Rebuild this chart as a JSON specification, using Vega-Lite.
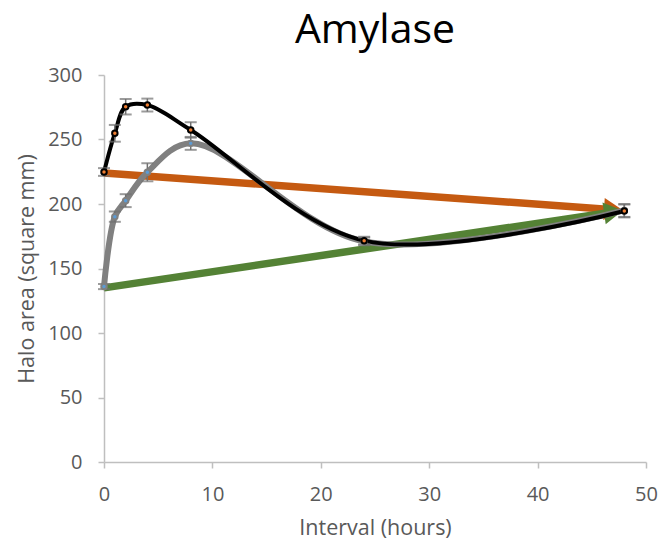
{
  "$schema": "https://vega.github.io/schema/vega-lite/v6.json",
  "width": 542,
  "height": 387,
  "autosize": "none",
  "padding": {"left": 104, "top": 75, "right": 12, "bottom": 83},
  "background": "white",
  "title": {"text": "Amylase", "fontSize": 41, "font": "Open Sans", "fontWeight": "normal", "color": "#000000", "offset": 13, "anchor": "middle"},
  "config": {
    "view": {"stroke": null},
    "axis": {"grid": false, "domainColor": "#BFBFBF", "tickColor": "#BFBFBF", "labelColor": "#595959", "titleColor": "#595959", "labelFont": "Open Sans", "titleFont": "Open Sans", "labelFontSize": 20, "titleFontSize": 21.5, "titleFontWeight": "normal", "tickSize": 6, "domainWidth": 1.5, "tickWidth": 1.5, "labelFlush": false}
  },
  "datasets": {
    "series": [
      {"series": "black", "x": 0, "y": 224.8, "err": 3},
      {"series": "black", "x": 1, "y": 254.8, "err": 6.5},
      {"series": "black", "x": 2, "y": 275.4, "err": 6},
      {"series": "black", "x": 4, "y": 276.7, "err": 5},
      {"series": "black", "x": 8, "y": 257.4, "err": 6},
      {"series": "black", "x": 24, "y": 171.6, "err": 3},
      {"series": "black", "x": 48, "y": 194.6, "err": 5},
      {"series": "gray", "x": 0, "y": 136, "err": 2},
      {"series": "gray", "x": 1, "y": 190.2, "err": 4},
      {"series": "gray", "x": 2, "y": 202.6, "err": 5},
      {"series": "gray", "x": 4, "y": 224.6, "err": 7},
      {"series": "gray", "x": 8, "y": 247, "err": 5},
      {"series": "gray", "x": 24, "y": 171, "err": 3},
      {"series": "gray", "x": 48, "y": 195, "err": 5}
    ],
    "arrows": [
      {"arrow": "orange", "x": 0, "y": 224, "end": false},
      {"arrow": "orange", "x": 47, "y": 195.6, "end": true},
      {"arrow": "green", "x": 0, "y": 135, "end": false},
      {"arrow": "green", "x": 47, "y": 193.8, "end": true}
    ]
  },
  "layer": [
    {
      "data": {"name": "arrows"},
      "transform": [{"filter": "datum.arrow == 'orange'"}],
      "mark": {"type": "line", "color": "#C55A11", "strokeWidth": 7.5},
      "encoding": {
        "x": {"field": "x", "type": "quantitative", "scale": {"domain": [0, 50]}, "axis": {"title": "Interval (hours)", "values": [0, 10, 20, 30, 40, 50], "labelPadding": 16, "titlePadding": 13}},
        "y": {"field": "y", "type": "quantitative", "scale": {"domain": [0, 300]}, "axis": {"title": "Halo area (square mm)", "values": [0, 50, 100, 150, 200, 250, 300], "labelPadding": 16, "titlePadding": 9}},
        "order": {"field": "x"}
      }
    },
    {
      "data": {"name": "arrows"},
      "transform": [{"filter": "datum.arrow == 'green'"}],
      "mark": {"type": "line", "color": "#548235", "strokeWidth": 7.5},
      "encoding": {
        "x": {"field": "x", "type": "quantitative"},
        "y": {"field": "y", "type": "quantitative"},
        "order": {"field": "x"}
      }
    },
    {
      "data": {"name": "arrows"},
      "transform": [{"filter": "datum.arrow == 'orange' && datum.end"}],
      "mark": {"type": "point", "shape": "triangle-right", "filled": true, "color": "#C55A11", "size": 480, "opacity": 1, "angle": 4},
      "encoding": {
        "x": {"field": "x", "type": "quantitative"},
        "y": {"field": "y", "type": "quantitative"}
      }
    },
    {
      "data": {"name": "arrows"},
      "transform": [{"filter": "datum.arrow == 'green' && datum.end"}],
      "mark": {"type": "point", "shape": "triangle-right", "filled": true, "color": "#548235", "size": 480, "opacity": 1, "angle": -8.5},
      "encoding": {
        "x": {"field": "x", "type": "quantitative"},
        "y": {"field": "y", "type": "quantitative"}
      }
    },
    {
      "data": {"name": "series"},
      "transform": [{"filter": "datum.series == 'gray'"}],
      "mark": {"type": "line", "color": "#808080", "strokeWidth": 6, "interpolate": "catmull-rom"},
      "encoding": {
        "x": {"field": "x", "type": "quantitative"},
        "y": {"field": "y", "type": "quantitative"},
        "order": {"field": "x"}
      }
    },
    {
      "data": {"name": "series"},
      "transform": [{"filter": "datum.series == 'black'"}],
      "mark": {"type": "line", "color": "#000000", "strokeWidth": 4, "interpolate": "catmull-rom"},
      "encoding": {
        "x": {"field": "x", "type": "quantitative"},
        "y": {"field": "y", "type": "quantitative"},
        "order": {"field": "x"}
      }
    },
    {
      "data": {"name": "series"},
      "mark": {"type": "errorbar", "ticks": {"size": 12, "color": "#707070", "thickness": 2}, "rule": {"color": "#707070", "strokeWidth": 1.5}},
      "encoding": {
        "x": {"field": "x", "type": "quantitative"},
        "y": {"field": "y", "type": "quantitative", "title": "Halo area (square mm)"},
        "yError": {"field": "err"}
      }
    },
    {
      "data": {"name": "series"},
      "transform": [{"filter": "datum.series == 'gray'"}],
      "mark": {"type": "point", "filled": true, "fill": "#5B9BD5", "stroke": "#808080", "strokeWidth": 2, "size": 30, "opacity": 1},
      "encoding": {
        "x": {"field": "x", "type": "quantitative"},
        "y": {"field": "y", "type": "quantitative"}
      }
    },
    {
      "data": {"name": "series"},
      "transform": [{"filter": "datum.series == 'black'"}],
      "mark": {"type": "point", "filled": true, "fill": "#ED7D31", "stroke": "#000000", "strokeWidth": 2, "size": 30, "opacity": 1},
      "encoding": {
        "x": {"field": "x", "type": "quantitative"},
        "y": {"field": "y", "type": "quantitative"}
      }
    }
  ]
}
